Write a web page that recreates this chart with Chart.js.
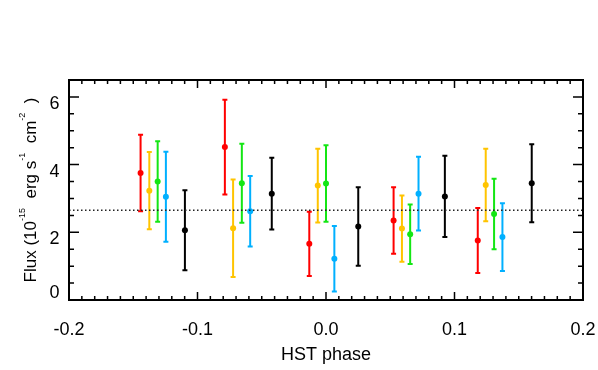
<!DOCTYPE html>
<html>
<head>
<meta charset="utf-8">
<script src="https://cdn.jsdelivr.net/npm/chart.js@4/dist/chart.umd.min.js"></script>
<style>
  html, body { margin: 0; padding: 0; background: #fff; }
  #wrap { width: 598px; height: 370px; }
</style>
</head>
<body>
<div id="wrap"><canvas id="c" width="598" height="370"></canvas></div>
<script>
// --- datos ---
const redX    = [-0.1443, -0.0787, -0.0130, 0.0526, 0.1181];
const redY    = [3.75, 4.52, 1.66, 2.35, 1.76];
const redErr  = [1.13, 1.40, 0.95, 0.98, 0.96];

const yelX    = [-0.1375, -0.0723, -0.0064, 0.0591, 0.1243];
const yelY    = [3.23, 2.12, 3.38, 2.11, 3.40];
const yelErr  = [1.14, 1.44, 1.09, 0.98, 1.07];

const grnX    = [-0.1310, -0.0655, 0.0000, 0.0655, 0.1308];
const grnY    = [3.50, 3.45, 3.44, 1.94, 2.54];
const grnErr  = [1.19, 1.17, 1.13, 0.88, 1.04];

const cyaX    = [-0.1246, -0.0590, 0.0065, 0.0720, 0.1373];
const cyaY    = [3.05, 2.62, 1.22, 3.14, 1.86];
const cyaErr  = [1.33, 1.04, 0.97, 1.09, 1.00];

const blkX    = [-0.1098, -0.0422, 0.0251, 0.0925, 0.1601];
const blkY    = [2.06, 3.14, 2.17, 3.06, 3.45];
const blkErr  = [1.18, 1.06, 1.16, 1.20, 1.15];

const meanFlux = 2.65;
const xTicks = [-0.2, -0.1, 0.0, 0.1, 0.2];
const yTicks = [0, 2, 4, 6];

const FONT = "'Liberation Sans', Arial, Helvetica, sans-serif";

function pts(xs, ys) {
    return xs.map((x, i) => ({ x: x, y: ys[i] }));
}

function serie(xs, ys, errs, color) {
    return {
        data: pts(xs, ys),
        err: errs,
        backgroundColor: color,
        borderColor: color,
        pointRadius: 3,
        pointBorderWidth: 0,
        showLine: false
    };
}

// Barras de error (se dibujan antes de los puntos)
const errorBars = {
    id: 'errorBars',
    beforeDatasetsDraw(chart) {
        const ctx = chart.ctx;
        const xs = chart.scales.x, ys = chart.scales.y;
        chart.data.datasets.forEach(ds => {
            if (!ds.err) return;
            ctx.save();
            ctx.strokeStyle = ds.borderColor;
            ctx.lineWidth = 2;
            ds.data.forEach((p, i) => {
                const px = xs.getPixelForValue(p.x);
                const top = ys.getPixelForValue(p.y + ds.err[i]);
                const bot = ys.getPixelForValue(p.y - ds.err[i]);
                ctx.beginPath();
                ctx.moveTo(px, top); ctx.lineTo(px, bot);
                ctx.moveTo(px - 2.5, top); ctx.lineTo(px + 2.5, top);
                ctx.moveTo(px - 2.5, bot); ctx.lineTo(px + 2.5, bot);
                ctx.stroke();
            });
            ctx.restore();
        });
    }
};

// Marco estilo IDL: ticks hacia adentro, etiquetas y títulos
const idlFrame = {
    id: 'idlFrame',
    afterDraw(chart) {
        const ctx = chart.ctx;
        const a = chart.chartArea;
        const xs = chart.scales.x, ys = chart.scales.y;
        ctx.save();
        ctx.strokeStyle = '#000';
        ctx.lineWidth = 2;
        ctx.strokeRect(a.left, a.top, a.right - a.left, a.bottom - a.top);

        ctx.lineWidth = 1.5;
        ctx.beginPath();
        // ticks eje x (mayores cada 0.1, menores cada 0.01)
        for (let k = -20; k <= 20; k++) {
            const v = k / 100;
            const px = xs.getPixelForValue(v);
            const len = (k % 10 === 0) ? 8 : 4;
            ctx.moveTo(px, a.bottom); ctx.lineTo(px, a.bottom - len);
            ctx.moveTo(px, a.top); ctx.lineTo(px, a.top + len);
        }
        // ticks eje y (mayores cada 2, menores cada 0.5)
        for (let k = 0; k <= 13; k++) {
            const v = k * 0.5;
            const py = ys.getPixelForValue(v);
            const len = (k % 4 === 0) ? 10 : 5;
            ctx.moveTo(a.left, py); ctx.lineTo(a.left + len, py);
            ctx.moveTo(a.right, py); ctx.lineTo(a.right - len, py);
        }
        ctx.stroke();

        ctx.fillStyle = '#000';
        ctx.font = '18px ' + FONT;
        ctx.textBaseline = 'middle';
        ctx.textAlign = 'center';
        xTicks.forEach(v => {
            ctx.fillText(v.toFixed(1), xs.getPixelForValue(v), 330);
        });
        ctx.fillText('HST phase', (a.left + a.right) / 2, 355);

        ctx.textAlign = 'right';
        yTicks.forEach(v => {
            const py = Math.min(ys.getPixelForValue(v) + 7, a.bottom - 7);
            ctx.fillText(String(v), 59.5, py);
        });

        // título y con superíndices
        const parts = [
            ['Flux (10', false], ['-15', true], ['  erg s', false], ['-1', true],
            ['  cm', false], ['-2', true], ['  )', false]
        ];
        const fN = '17px ' + FONT, fS = '9px ' + FONT;
        let total = 0;
        parts.forEach(p => { ctx.font = p[1] ? fS : fN; total += ctx.measureText(p[0]).width; });
        ctx.translate(31, (a.top + a.bottom) / 2);
        ctx.rotate(-Math.PI / 2);
        ctx.textAlign = 'left';
        let x = -total / 2;
        parts.forEach(p => {
            ctx.font = p[1] ? fS : fN;
            ctx.fillText(p[0], x, p[1] ? -8 : 0);
            x += ctx.measureText(p[0]).width;
        });
        ctx.restore();
    }
};

new Chart(document.getElementById('c'), {
    type: 'scatter',
    data: {
        datasets: [
            {
                type: 'line',
                data: [{ x: -0.2, y: meanFlux }, { x: 0.2, y: meanFlux }],
                borderColor: '#222',
                borderWidth: 1.5,
                borderDash: [1.5, 2.5],
                pointRadius: 0,
                fill: false
            },
            serie(redX, redY, redErr, 'rgb(255,0,0)'),
            serie(yelX, yelY, yelErr, 'rgb(255,196,0)'),
            serie(grnX, grnY, grnErr, 'rgb(20,230,20)'),
            serie(cyaX, cyaY, cyaErr, 'rgb(0,176,255)'),
            serie(blkX, blkY, blkErr, 'rgb(0,0,0)')
        ]
    },
    options: {
        responsive: false,
        animation: false,
        layout: { padding: { left: 69, top: 80, right: 15, bottom: 70 } },
        plugins: {
            legend: { display: false },
            tooltip: { enabled: false }
        },
        scales: {
            x: {
                type: 'linear', min: -0.2, max: 0.2,
                grid: { display: false }, border: { display: false },
                ticks: { display: false },
                afterFit: s => { s.height = 0; }
            },
            y: {
                type: 'linear', min: 0, max: 6.5,
                grid: { display: false }, border: { display: false },
                ticks: { display: false },
                afterFit: s => { s.width = 0; }
            }
        }
    },
    plugins: [errorBars, idlFrame]
});
</script>
</body>
</html>
